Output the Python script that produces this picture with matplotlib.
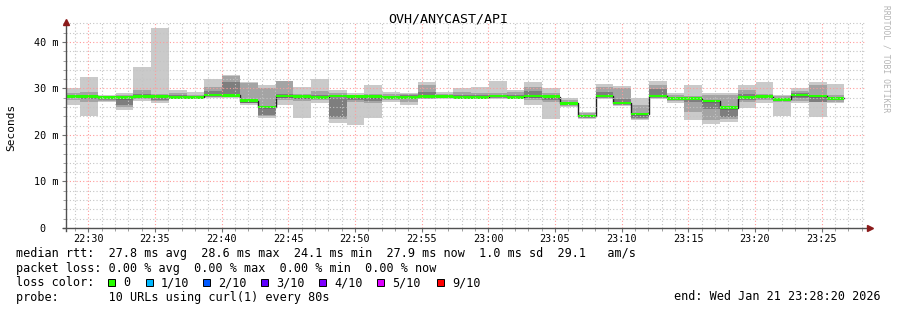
import numpy as np
import matplotlib.pyplot as plt

W, H = 897, 310
MONO = 'DejaVu Sans Mono'

# --- data: 80 s steps, 10 pings each (values in ms) ---
step = 80 / 60.0           # minutes per step
start_label = (22, 28, 20)  # window start 22:28:20, end 23:28:20
first_start = -0.283        # first step starts just before the window

med = [28.3, 28.3, 28.0, 28.0, 28.3, 28.3, 28.1, 28.1, 28.6, 28.5,
       27.4, 26.0, 28.4, 28.2, 28.1, 28.4, 28.2, 28.2, 28.1, 28.1,
       28.2, 28.2, 28.1, 28.1, 28.4, 28.1, 28.4, 28.2, 26.8, 24.1,
       28.4, 26.9, 24.5, 28.4, 27.9, 27.9, 27.3, 25.9, 28.1, 28.2,
       27.7, 28.6, 28.4, 27.9]
# outer smoke (min / max ping)
lo1 = [26.4, 24.1, 27.0, 25.4, 27.4, 26.8, 28.0, 28.0, 28.0, 28.0,
       26.4, 23.6, 26.5, 23.7, 26.8, 22.6, 22.2, 23.6, 27.2, 26.4,
       27.7, 27.9, 27.9, 27.7, 27.7, 27.7, 26.5, 23.4, 26.0, 23.4,
       27.7, 26.2, 23.2, 27.7, 26.8, 23.2, 22.4, 22.9, 25.9, 26.8,
       24.1, 26.8, 23.9, 26.9]
hi1 = [30.0, 32.5, 28.7, 29.0, 34.7, 43.0, 29.7, 29.2, 32.0, 33.0,
       31.3, 30.8, 31.6, 30.4, 32.0, 29.7, 29.1, 30.8, 29.3, 29.0,
       31.3, 29.3, 30.0, 30.3, 31.6, 29.7, 31.3, 30.0, 27.9, 25.0,
       31.0, 30.5, 27.9, 31.6, 29.1, 30.8, 29.1, 29.1, 30.8, 31.3,
       28.6, 30.0, 31.3, 31.0]
# second smoke layer
lo2 = [27.5, 27.2, 27.4, 26.0, 27.7, 27.3, 28.0, 28.0, 28.1, 28.2,
       26.8, 24.0, 27.6, 27.4, 27.5, 23.4, 27.2, 26.9, 27.6, 27.0,
       27.9, 27.9, 28.0, 27.9, 27.9, 27.8, 27.6, 27.1, 26.3, 23.7,
       27.9, 26.5, 23.5, 28.0, 27.3, 25.0, 23.2, 23.5, 27.0, 27.5,
       27.0, 27.3, 27.2, 27.2]
hi2 = [29.0, 29.2, 28.4, 28.6, 29.7, 28.8, 29.0, 28.7, 30.3, 32.6,
       31.2, 30.2, 31.6, 28.9, 29.4, 29.0, 28.7, 28.9, 28.8, 28.8,
       30.8, 28.8, 29.2, 29.0, 29.0, 29.2, 30.3, 29.0, 27.5, 24.7,
       30.4, 30.1, 26.5, 30.8, 28.6, 28.3, 28.5, 28.5, 29.6, 28.9,
       28.3, 29.5, 30.8, 28.6]
# inner smoke layer
lo3 = [27.9, 27.8, 27.8, 26.5, 28.0, 27.6, 28.0, 28.0, 28.3, 28.5,
       26.8, 24.2, 28.0, 27.8, 27.9, 23.8, 27.6, 27.4, 27.9, 27.8,
       28.0, 28.0, 28.0, 28.0, 28.1, 28.0, 28.0, 27.6, 26.6, 24.0,
       28.2, 26.7, 23.6, 28.2, 27.6, 27.2, 25.5, 23.8, 27.6, 27.9,
       27.4, 28.0, 27.2, 27.5]
hi3 = [28.6, 28.7, 28.2, 28.1, 28.8, 28.5, 28.5, 28.4, 29.5, 31.5,
       27.6, 26.0, 28.8, 28.4, 28.5, 28.0, 28.4, 28.4, 28.4, 28.5,
       29.3, 28.4, 28.6, 28.5, 28.7, 28.6, 29.5, 28.5, 27.1, 24.4,
       29.2, 27.8, 24.5, 29.8, 28.2, 28.0, 27.3, 25.9, 28.8, 28.5,
       28.0, 29.0, 28.3, 28.0]

xtick_labels = ['22:30', '22:35', '22:40', '22:45', '22:50', '22:55',
                '23:00', '23:05', '23:10', '23:15', '23:20', '23:25']
ytick_vals = [0, 10, 20, 30, 40]
ytick_labels = ['0  ', '10 m', '20 m', '30 m', '40 m']

loss_labels = ['0', '1/10', '2/10', '3/10', '4/10', '5/10', '9/10']
loss_colors = ['#26ff00', '#00b8ff', '#0059ff', '#5e00ff', '#7e00ff', '#dd00ff', '#ff0000']

stats_rtt = 'median rtt:  27.8 ms avg  28.6 ms max  24.1 ms min  27.9 ms now  1.0 ms sd  29.1   am/s'
stats_loss = 'packet loss: 0.00 % avg  0.00 % max  0.00 % min  0.00 % now'
probe_txt = 'probe:       10 URLs using curl(1) every 80s'
end_txt = 'end: Wed Jan 21 23:28:20 2026'


def tmin(lbl):
    h, m = lbl.split(':')
    return int(h) * 60 + int(m) - (start_label[0] * 60 + start_label[1] + start_label[2] / 60.0)


def fx(px):
    return px / W


def fy(py):
    return 1 - py / H


fig = plt.figure(figsize=(W / 100, H / 100), dpi=100)
fig.patch.set_facecolor('white')
ax = fig.add_axes([fx(66), fy(228), fx(866) - fx(66), fy(22) - fy(228)])
ax.set_xlim(0, 60)
ax.set_ylim(0, 44.3)

edges = first_start + step * np.arange(len(med) + 1)


def ext(a):
    a = np.asarray(a, float)
    return np.append(a, a[-1])


ax.fill_between(edges, ext(lo1), ext(hi1), step='post', color='#cacaca', lw=0, zorder=1)
ax.fill_between(edges, ext(lo2), ext(hi2), step='post', color='#a4a4a4', lw=0, zorder=1.1)
ax.fill_between(edges, ext(lo3), ext(hi3), step='post', color='#7e7e7e', lw=0, zorder=1.2)
ax.step(edges, ext(med), where='post', color='#202020', lw=1.0, zorder=1.5)
ax.fill_between(edges, ext(med) - 0.3, ext(med) + 0.3, step='post', color=loss_colors[0], lw=0, zorder=1.6)

# grid
xt = [tmin(l) for l in xtick_labels]
ax.set_xticks(xt)
ax.set_xticklabels(xtick_labels, family=MONO, fontsize=7.3)
ax.set_xticks(np.arange(tmin('22:29'), 60, 1.0), minor=True)
ax.set_yticks(ytick_vals)
ax.set_yticklabels(ytick_labels, family=MONO, fontsize=7.3)
ax.set_yticks(np.arange(0, 44.3, 2), minor=True)
ax.set_axisbelow(False)
ax.grid(which='minor', color='#c4c4c4', lw=0.8, linestyle=(0, (1, 2)))
ax.grid(which='major', color='#ff9a9a', lw=0.8, linestyle=(0, (1, 2)))
ax.tick_params(which='major', length=3, color='#707070', pad=2.2)
ax.tick_params(which='minor', length=2, color='#909090')
ax.tick_params(axis='x', pad=1.0)
for s in ax.spines.values():
    s.set_visible(False)

# axis lines with arrows
fig.add_artist(plt.Line2D([fx(66), fx(66)], [fy(231), fy(24)], color='#505050', lw=1.0))
fig.add_artist(plt.Line2D([fx(63), fx(868)], [fy(228), fy(228)], color='#505050', lw=1.0))
fig.add_artist(plt.Line2D([fx(66)], [fy(22)], marker='^', markersize=4, color='#8b1a1a', lw=0))
fig.add_artist(plt.Line2D([fx(870)], [fy(228)], marker='>', markersize=4, color='#8b1a1a', lw=0))

# texts
fig.text(fx(448), fy(19), 'OVH/ANYCAST/API', family=MONO, fontsize=9.6, ha='center', va='center')
fig.text(fx(11), fy(127), 'Seconds', family=MONO, fontsize=8, rotation=90, ha='center', va='center')
fig.text(fx(886), fy(59), 'RRDTOOL / TOBI OETIKER', family=MONO, fontsize=5.8, rotation=270,
         ha='center', va='center', color='#b4b4b4')

fs = 8.5
fig.text(fx(16), fy(254), stats_rtt, family=MONO, fontsize=fs, va='center')
fig.text(fx(16), fy(268.5), stats_loss, family=MONO, fontsize=fs, va='center')
fig.text(fx(16), fy(282.5), 'loss color:', family=MONO, fontsize=fs, va='center')
box_x = [108, 146, 203, 261, 319, 377, 437]
for bx, lbl, col in zip(box_x, loss_labels, loss_colors):
    fig.add_artist(plt.Rectangle((fx(bx), fy(285.5)), fx(7), 7 / H, facecolor=col,
                                 edgecolor='black', lw=0.7))
    fig.text(fx(bx + 15), fy(282.5), lbl, family=MONO, fontsize=fs, va='center')
fig.text(fx(16), fy(297), probe_txt, family=MONO, fontsize=fs, va='center')
fig.text(fx(881), fy(297), end_txt, family=MONO, fontsize=fs, va='center', ha='right')

fig.savefig('out.png', dpi=100)
